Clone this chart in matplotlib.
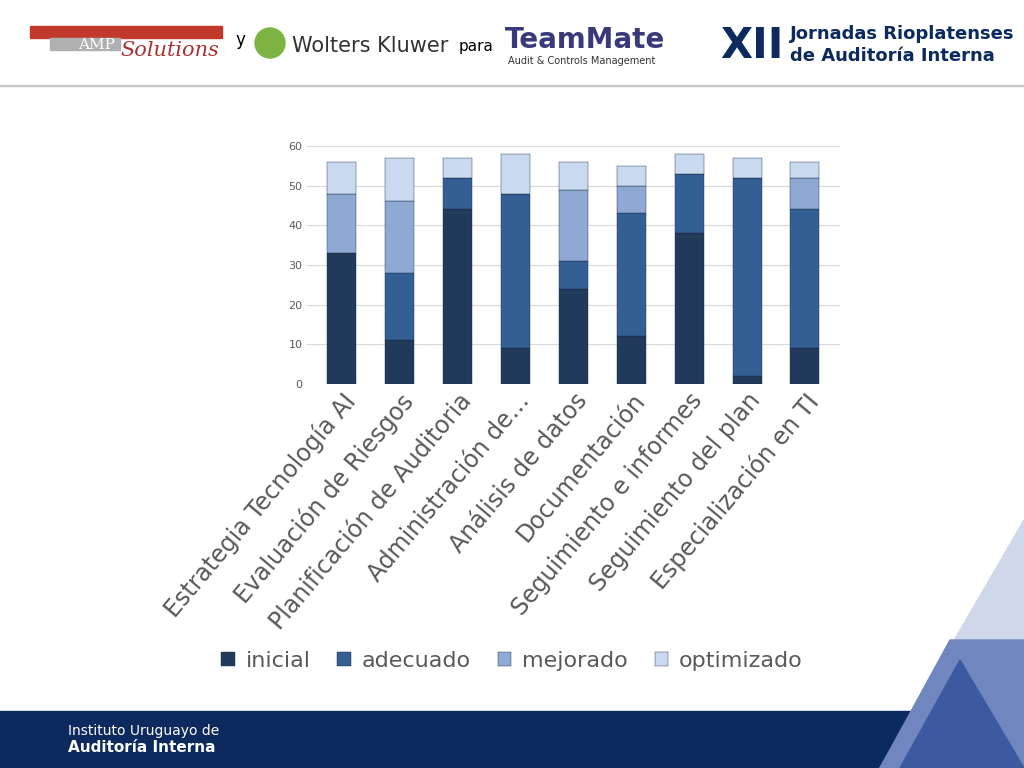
import matplotlib.pyplot as plt
from matplotlib.patches import Rectangle, Polygon, Circle

categories = ["Estrategia Tecnología AI", "Evaluación de Riesgos", "Planificación de Auditoria",
              "Administración de…", "Análisis de datos", "Documentación",
              "Seguimiento e informes", "Seguimiento del plan", "Especialización en TI"]
inicial = [33, 11, 44, 9, 24, 12, 38, 2, 9]
adecuado = [0, 17, 8, 39, 7, 31, 15, 50, 35]
mejorado = [15, 18, 0, 0, 18, 7, 0, 0, 8]
optimizado = [8, 11, 5, 10, 7, 5, 5, 5, 4]
series = [("inicial", inicial, "#213a5c"), ("adecuado", adecuado, "#345f94"),
          ("mejorado", mejorado, "#8eaad4"), ("optimizado", optimizado, "#c9daf0")]

fig = plt.figure(figsize=(10.24, 7.68), dpi=100)

# slide decorations
deco = fig.add_axes([0, 0, 1, 1], zorder=-1)
deco.set_xlim(0, 1024); deco.set_ylim(768, 0); deco.axis("off")
deco.add_patch(Rectangle((0, 711), 1024, 57, color="#0d2a5e"))
deco.add_patch(Polygon([[880, 768], [1024, 520], [1024, 768]], color="#cfd8ea"))
deco.add_patch(Polygon([[880, 768], [950, 640], [1024, 640], [1024, 768]], color="#6f86bf"))
deco.add_patch(Polygon([[900, 768], [960, 660], [1024, 768]], color="#3d5aa0"))
deco.add_patch(Rectangle((0, 85), 1024, 1, color="#c8c8c8"))
deco.add_patch(Rectangle((30, 26), 192, 12, color="#c0392b"))
deco.add_patch(Rectangle((50, 38), 70, 12, color="#b0b0b0"))
deco.text(78, 45, "AMP", fontsize=11, color="white", family="serif", va="center")
deco.text(120, 50, "Solutions", fontsize=15, color="#a83232", family="serif", style="italic", va="center")
deco.text(235, 40, "y", fontsize=12, va="center")
deco.add_patch(Circle((270, 43), 15, color="#7cb342"))
deco.text(292, 46, "Wolters Kluwer", fontsize=15, color="#333333", va="center")
deco.text(459, 46, "para", fontsize=11, va="center")
deco.text(505, 40, "TeamMate", fontsize=20, color="#3a3a7a", weight="bold", va="center")
deco.text(508, 61, "Audit & Controls Management", fontsize=7, color="#333333", va="center")
deco.text(720, 46, "XII", fontsize=30, color="#0d2a5e", weight="bold", va="center")
deco.text(790, 34, "Jornadas Rioplatenses", fontsize=13, color="#0d2a5e", weight="bold", va="center")
deco.text(790, 56, "de Auditoría Interna", fontsize=13, color="#0d2a5e", weight="bold", va="center")
deco.text(68, 731, "Instituto Uruguayo de", fontsize=10, color="white", va="center")
deco.text(68, 748, "Auditoría Interna", fontsize=11, color="white", weight="bold", va="center")

ax = fig.add_axes([0.3, 0.5, 0.52, 0.31])
x = range(len(categories))
bottom = [0] * len(categories)
for name, vals, col in series:
    ax.bar(x, vals, 0.5, bottom=bottom, color=col, label=name, edgecolor="#1a2a40", linewidth=0.3, zorder=3)
    bottom = [b + v for b, v in zip(bottom, vals)]
ax.set_ylim(0, 60)
ax.set_yticks(range(0, 61, 10))
ax.tick_params(axis="y", labelsize=8, colors="#595959", length=0)
ax.grid(axis="y", color="#d9d9d9", zorder=0)
for s in ax.spines.values():
    s.set_visible(False)
ax.set_xticks(list(x))
ax.set_xticklabels(categories, rotation=50, ha="right", rotation_mode="anchor",
                   fontsize=17, color="#595959")
ax.tick_params(axis="x", length=0)
ax.set_xlim(-0.6, len(categories) - 0.4)

fig.legend(loc="lower center", bbox_to_anchor=(0.5, 0.1), ncol=4, frameon=False,
           fontsize=16, handlelength=0.6, handleheight=0.6, labelcolor="#595959",
           columnspacing=1.2, handletextpad=0.5)

fig.savefig("out.png")
